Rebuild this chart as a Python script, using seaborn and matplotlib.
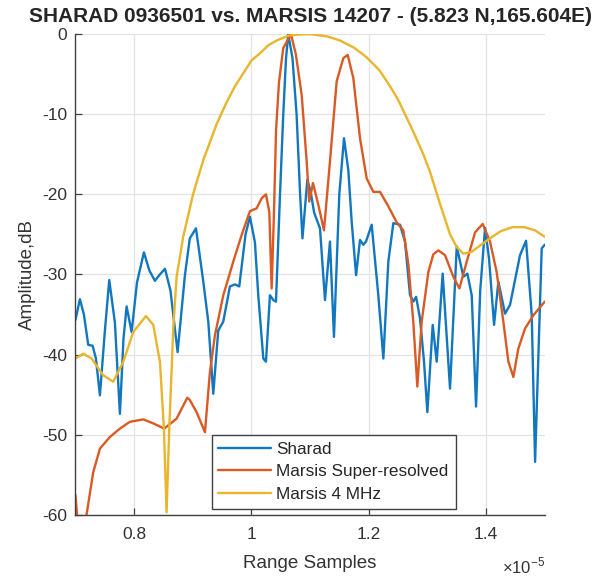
import matplotlib
matplotlib.use("Agg")
import matplotlib.pyplot as plt
import seaborn as sns
import pandas as pd

# range samples are in units of 1e-5
sharad_x = [0.700, 0.7077, 0.7145, 0.7219, 0.7293, 0.7350, 0.7418, 0.7503, 0.7577, 0.7673,
            0.7759, 0.7820, 0.7873, 0.7958, 0.8050, 0.8168, 0.8260, 0.8355, 0.8440, 0.8527,
            0.8620, 0.8742, 0.8867, 0.8950, 0.9055, 0.9180, 0.9265, 0.9350, 0.9435, 0.9520,
            0.9634, 0.9720, 0.9793, 0.9900, 0.9975, 1.0060, 1.0117, 1.0203, 1.0248, 1.0316,
            1.0373, 1.0419, 1.0487, 1.0543, 1.0590, 1.0628, 1.0700, 1.0770, 1.0830, 1.0870,
            1.0953, 1.1010, 1.1067, 1.1084, 1.1169, 1.1254, 1.1339, 1.1407, 1.1498, 1.1578,
            1.1652, 1.1709, 1.1784, 1.1851, 1.1908, 1.1953, 1.2050, 1.2163, 1.2249, 1.2334,
            1.2419, 1.2533, 1.2618, 1.2703, 1.2760, 1.2807, 1.2874, 1.2942, 1.2999, 1.3090,
            1.3158, 1.3260, 1.3385, 1.3500, 1.3613, 1.3681, 1.3755, 1.3829, 1.3900, 1.3982,
            1.4050, 1.4136, 1.4209, 1.4323, 1.4408, 1.4578, 1.4681, 1.4778, 1.4835, 1.4948,
            1.5000]
sharad_db = [-35.7, -33.1, -35.0, -38.8, -38.9, -40.5, -45.1, -37.0, -30.7, -36.0,
             -47.4, -38.0, -34.0, -37.2, -31.0, -27.25, -29.5, -30.8, -30.0, -29.3,
             -32.0, -39.7, -30.1, -25.5, -24.25, -30.9, -35.9, -44.9, -37.0, -35.9,
             -31.5, -31.25, -31.5, -25.0, -22.8, -26.0, -32.6, -40.5, -40.9, -32.6,
             -33.2, -33.4, -20.1, -10.0, -3.0, 0.0, -3.0, -10.0, -20.0, -25.5,
             -18.2, -19.7, -22.2, -22.6, -24.25, -33.2, -25.9, -37.8, -20.0, -13.0,
             -17.0, -23.4, -30.1, -25.7, -26.3, -25.9, -23.8, -32.6, -40.5, -28.4,
             -23.6, -23.8, -25.9, -32.6, -33.4, -32.8, -35.5, -40.9, -47.2, -36.3,
             -40.9, -29.9, -44.25, -26.5, -30.3, -29.9, -32.6, -46.5, -32.0, -24.2,
             -28.0, -36.3, -30.9, -34.9, -33.8, -27.6, -25.8, -35.1, -53.4, -26.75,
             -26.3]

super_x = [0.700, 0.704, 0.712, 0.719, 0.7304, 0.7418, 0.7588, 0.7759, 0.7929, 0.8157,
           0.8327, 0.8515, 0.8725, 0.8907, 0.8952, 0.9066, 0.9208, 0.9293, 0.9378, 0.9521,
           0.9691, 0.9833, 0.9975, 1.0089, 1.0174, 1.0248, 1.0305, 1.0345, 1.0385, 1.0420,
           1.0470, 1.0543, 1.0674, 1.0757, 1.0857, 1.0942, 1.0985, 1.1050, 1.1140, 1.1237,
           1.1339, 1.1453, 1.1567, 1.1641, 1.1737, 1.1851, 1.1964, 1.2078, 1.2192, 1.2334,
           1.2476, 1.2589, 1.2675, 1.2760, 1.2828, 1.2902, 1.3016, 1.3100, 1.3186, 1.3300,
           1.3442, 1.3545, 1.3670, 1.3812, 1.3942, 1.4067, 1.4180, 1.4294, 1.4380, 1.4465,
           1.4550, 1.4664, 1.4806, 1.5000]
super_db = [-57.5, -61.0, -63.0, -60.0, -54.7, -51.75, -50.3, -49.25, -48.4, -48.1,
            -48.6, -49.25, -48.0, -45.4, -45.7, -47.2, -49.7, -42.2, -37.6, -32.6,
            -28.4, -25.1, -22.1, -21.75, -20.5, -20.0, -22.2, -31.75, -22.2, -12.0,
            -6.0, -1.75, 0.0, -2.5, -7.6, -15.9, -20.9, -18.6, -21.3, -24.5,
            -15.9, -5.9, -3.0, -2.6, -5.5, -13.0, -18.0, -19.7, -19.7, -21.5,
            -23.5, -24.5, -28.7, -36.0, -44.0, -35.9, -29.7, -27.5, -27.0, -27.6,
            -30.3, -31.75, -28.4, -24.75, -23.7, -25.9, -29.7, -35.9, -40.9, -42.8,
            -39.25, -36.75, -35.1, -33.4]

mhz4_x = [0.700, 0.7134, 0.7276, 0.7475, 0.7645, 0.7816, 0.7986, 0.8202, 0.8327, 0.8441,
          0.8509, 0.8554, 0.8600, 0.8668, 0.8725, 0.8838, 0.9009, 0.9179, 0.9409, 0.9578,
          0.9720, 0.9861, 1.0000, 1.0146, 1.0287, 1.0430, 1.0630, 1.0800, 1.1000, 1.1300,
          1.1510, 1.1750, 1.1965, 1.2180, 1.2362, 1.2500, 1.2618, 1.2760, 1.2930, 1.3044,
          1.3215, 1.3385, 1.3500, 1.3612, 1.3750, 1.3897, 1.4067, 1.4250, 1.4450, 1.4650,
          1.4835, 1.5000]
mhz4_db = [-40.5, -39.9, -40.5, -42.6, -43.4, -40.9, -37.2, -35.2, -36.3, -40.9,
           -49.25, -59.7, -49.25, -36.75, -30.3, -25.3, -19.9, -15.75, -11.2, -8.5,
           -6.5, -4.9, -3.3, -2.4, -1.4, -0.8, -0.2, -0.05, 0.0, -0.3,
           -0.8, -1.7, -2.9, -4.5, -6.5, -8.2, -10.0, -12.2, -15.0, -17.2,
           -21.2, -25.0, -26.6, -27.4, -27.2, -26.4, -25.5, -24.6, -24.1, -24.1,
           -24.5, -25.3]

series_names = ["Sharad", "Marsis Super-resolved", "Marsis 4 MHz"]
colors = ["#1177BE", "#D95A24", "#E9B52C"]

frames = []
for name, xs, ys in zip(series_names, [sharad_x, super_x, mhz4_x], [sharad_db, super_db, mhz4_db]):
    frames.append(pd.DataFrame({"x": xs, "y": ys, "series": name}))
df = pd.concat(frames, ignore_index=True)

sns.set_style("whitegrid")
plt.rcParams["font.family"] = ["Liberation Sans", "DejaVu Sans"]
plt.rcParams["mathtext.fontset"] = "custom"
plt.rcParams["mathtext.rm"] = "Liberation Sans"
plt.rcParams["axes.unicode_minus"] = False

fig = plt.figure(figsize=(6.08, 5.78), dpi=100)
ax = fig.add_axes([0.124, 0.1095, 0.772, 0.8315])

sns.lineplot(data=df, x="x", y="y", hue="series", palette=colors, estimator=None,
             sort=False, linewidth=1.7, ax=ax)

ax.set_xlim(0.7, 1.5)
ax.set_ylim(-60, 0)
ax.set_xticks([0.8, 1.0, 1.2, 1.4])
ax.set_xticklabels(["0.8", "1", "1.2", "1.4"])
ax.set_yticks([-60, -50, -40, -30, -20, -10, 0])
ax.grid(True, color="#e3e3e3", linewidth=0.9)

for side in ["top", "right"]:
    ax.spines[side].set_visible(False)
for side in ["left", "bottom"]:
    ax.spines[side].set_color("#404040")
    ax.spines[side].set_linewidth(1.0)
ax.tick_params(direction="in", length=5, width=0.9, color="#404040",
               labelsize=12.5, labelcolor="#333333", left=True, bottom=True)
ax.tick_params(axis="y", pad=6)
ax.tick_params(axis="x", pad=9)

ax.set_xlabel("Range Samples", fontsize=13.5, color="#333333", labelpad=9)
ax.set_ylabel("Amplitude,dB", fontsize=13.5, color="#333333", labelpad=4)
ax.set_title("SHARAD 0936501 vs. MARSIS 14207 - (5.823 N,165.604E)",
             fontsize=15, fontweight="bold", pad=9)
ax.text(1.0, -0.085, r"$\times10^{-5}$", transform=ax.transAxes, ha="right", va="top",
        fontsize=12, color="#333333")

handles, labels = ax.get_legend_handles_labels()
ax.legend(handles, labels, loc="lower left", bbox_to_anchor=(0.29, 0.012), fontsize=12.3,
          handlelength=3.1, fancybox=False, framealpha=1, edgecolor="#404040",
          borderpad=0.4, labelspacing=0.45, handletextpad=0.3, borderaxespad=0)

fig.savefig("out.png", dpi=100)
